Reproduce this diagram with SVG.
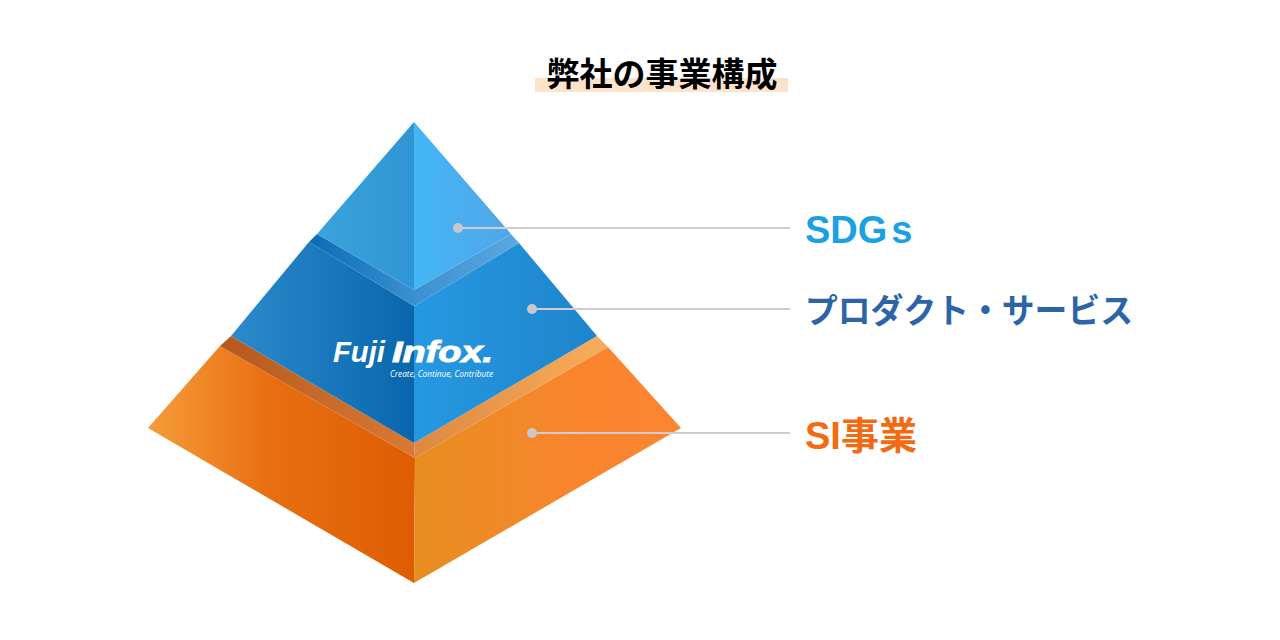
<svg xmlns="http://www.w3.org/2000/svg" width="1280" height="640" viewBox="0 0 1280 640">
<defs>
<style>
.lbl{font-family:"Noto Sans CJK JP","Noto Sans",sans-serif;font-weight:700}
.lat{font-family:"Liberation Sans","Noto Sans CJK JP",sans-serif;font-weight:700}
.dot{fill:#c9c9cd}
.ln{stroke:#d3cbd0;stroke-width:2;fill:none}
</style>
<linearGradient id="gTL" gradientUnits="userSpaceOnUse" x1="317" y1="0" x2="414" y2="0"><stop offset="0" stop-color="#3aa3db"/><stop offset="1" stop-color="#2f96d3"/></linearGradient>
<linearGradient id="gTR" gradientUnits="userSpaceOnUse" x1="414" y1="0" x2="511" y2="0"><stop offset="0" stop-color="#43b6f5"/><stop offset="1" stop-color="#52a6e8"/></linearGradient>
<linearGradient id="gTLL" gradientUnits="userSpaceOnUse" x1="309" y1="0" x2="414" y2="0"><stop offset="0" stop-color="#0a6cb4"/><stop offset="1" stop-color="#3a90d2"/></linearGradient>
<linearGradient id="gTLR" gradientUnits="userSpaceOnUse" x1="414" y1="0" x2="519" y2="0"><stop offset="0" stop-color="#3c8fd0"/><stop offset="1" stop-color="#5aa8e0"/></linearGradient>
<linearGradient id="gML" gradientUnits="userSpaceOnUse" x1="231" y1="0" x2="414" y2="0"><stop offset="0" stop-color="#2b8bcc"/><stop offset="1" stop-color="#0966ad"/></linearGradient>
<linearGradient id="gMR" gradientUnits="userSpaceOnUse" x1="414" y1="0" x2="597" y2="0"><stop offset="0" stop-color="#2698e2"/><stop offset="1" stop-color="#1e85cb"/></linearGradient>
<linearGradient id="gOLL" gradientUnits="userSpaceOnUse" x1="220" y1="0" x2="414" y2="0"><stop offset="0" stop-color="#b4581c"/><stop offset="1" stop-color="#d87a34"/></linearGradient>
<linearGradient id="gOLR" gradientUnits="userSpaceOnUse" x1="414" y1="0" x2="608" y2="0"><stop offset="0" stop-color="#de8840"/><stop offset="1" stop-color="#f9ad5a"/></linearGradient>
<linearGradient id="gOL" gradientUnits="userSpaceOnUse" x1="148" y1="0" x2="414" y2="0"><stop offset="0" stop-color="#f69c3a"/><stop offset="0.45" stop-color="#e86f12"/><stop offset="1" stop-color="#df5c02"/></linearGradient>
<linearGradient id="gOR" gradientUnits="userSpaceOnUse" x1="415" y1="0" x2="681" y2="0"><stop offset="0" stop-color="#e78e20"/><stop offset="0.6" stop-color="#f8852e"/><stop offset="1" stop-color="#fc8532"/></linearGradient>
</defs>
<rect width="1280" height="640" fill="#ffffff"/>
<g id="title">
<rect x="535" y="78" width="253" height="14" fill="#fde3cc"/>
<text x="662" y="86" class="lbl" font-size="33" text-anchor="middle" fill="#000000">弊社の事業構成</text>
</g>
<g id="tier-si">
<polygon points="220,346 415,458 414,583 148,428" fill="url(#gOL)"/>
<polygon points="415,458 608,347 681,428 414,583" fill="url(#gOR)"/>
<polygon points="231,336 414,443 415,458 220,346" fill="url(#gOLL)"/>
<polygon points="414,443 597,336 608,347 415,458" fill="url(#gOLR)"/>
</g>
<g id="tier-product">
<polygon points="309,242 414,306 414,443 231,336" fill="url(#gML)"/>
<polygon points="414,306 519,243 597,336 414,443" fill="url(#gMR)"/>
<polygon points="317,234 414,290 414,306 309,242" fill="url(#gTLL)"/>
<polygon points="414,290 511,234 519,243 414,306" fill="url(#gTLR)"/>
<text x="333" y="362" font-family="'Liberation Sans',sans-serif" font-style="italic" font-weight="700" font-size="30" fill="#ffffff" textLength="52" lengthAdjust="spacingAndGlyphs">Fuji</text>
<text x="392" y="362" font-family="'Liberation Sans',sans-serif" font-style="italic" font-weight="700" font-size="30" fill="#ffffff" stroke="#ffffff" stroke-width="1" textLength="101" lengthAdjust="spacingAndGlyphs">Infox.</text>
<text x="390" y="377" font-family="'Open Sans',sans-serif" font-style="italic" font-size="8.5" fill="#ffffff" textLength="103" lengthAdjust="spacingAndGlyphs">Create, Continue, Contribute</text>
</g>
<g id="tier-sdgs">
<polygon points="414,122 317,234 414,290" fill="url(#gTL)"/>
<polygon points="414,122 511,234 414,290" fill="url(#gTR)"/>
</g>
<g id="connectors">
<line class="ln" x1="458" y1="228" x2="790" y2="228"/>
<circle class="dot" cx="458" cy="228" r="5"/>
<line class="ln" x1="532" y1="309" x2="790" y2="309"/>
<circle class="dot" cx="532" cy="309" r="5"/>
<line class="ln" x1="532" y1="433" x2="790" y2="433"/>
<circle class="dot" cx="532" cy="433" r="5"/>
</g>
<g id="label-sdgs"><text x="805" y="243" class="lat" font-size="38" fill="#1ba1e2">SDG<tspan dx="4">s</tspan></text></g>
<g id="label-product"><text x="805" y="323" class="lbl" font-size="34" fill="#2c64a5" textLength="328" lengthAdjust="spacingAndGlyphs">プロダクト・サービス</text></g>
<g id="label-si"><text x="805" y="449" class="lat" font-size="38" fill="#f26b12">SI<tspan font-family="'Noto Sans CJK JP',sans-serif">事業</tspan></text></g>
</svg>
